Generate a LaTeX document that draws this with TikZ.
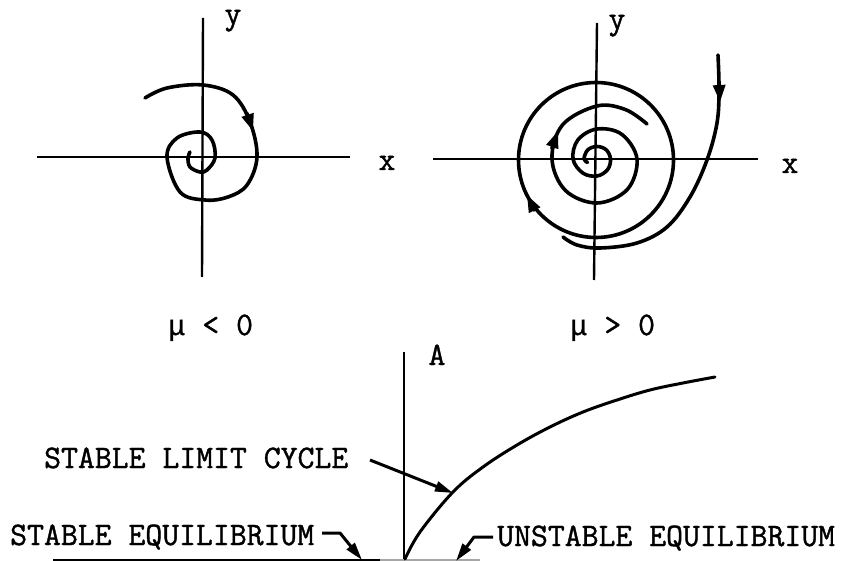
\documentclass[tikz,border=0pt]{standalone}
\usepackage{fontspec}
\newfontfamily\tw[FakeBold=1.2]{Latin Modern Mono}
\newfontfamily\mufont[FakeBold=0.6]{Liberation Mono}
\usetikzlibrary{arrows.meta}
\newcommand{\mymu}{{\mufont\fontsize{28.7}{30}\selectfont μ}}
\begin{document}
\begin{tikzpicture}[x=1pt,y=-1pt,
  axis/.style={line width=2.4pt},
  thinaxis/.style={line width=1.7pt},
  traj/.style={line width=3.6pt, line cap=round, line join=round},
  tipseg/.style={line width=3.2pt, -{Triangle[length=17pt,width=12pt]}},
  leader/.style={line width=3pt, line join=round, -{Triangle[length=18pt,width=10pt]}},
  lbl/.style={font=\tw\fontsize{32.8}{34}\selectfont, inner sep=0pt}]
\useasboundingbox (0,0) rectangle (854,561);

% ---------- left phase portrait (mu < 0)
\draw[axis] (37,157) -- (350,157);
\draw[axis] (203,18) -- (202,277);
\node[lbl, anchor=base] (xL) at (387,170) {x};
\node[lbl, anchor=base] (yL) at (233,24) {y};
\draw[traj] plot[smooth, tension=0.6] coordinates {(145,98) (167,88) (203,85) (233,95) (250,122) (257,157) (247,185) (228,197) (205,200) (180,192) (167,157) (177,138) (200,132) (212,140) (215,158) (207,170) (200,172) (190,167) (188,158) (190,152)};
\coordinate (aL1) at (247,113);
\coordinate (aL2) at (253,131);
\draw[tipseg] (aL1) -- (aL2);
\node[lbl, anchor=base west] (muL) at (168,335) {\mymu{} < 0};

% ---------- right phase portrait (mu > 0)
\draw[axis] (433,159) -- (758,159);
\draw[axis] (597,23) -- (594,280);
\node[lbl, anchor=base] (xR) at (790,173) {x};
\node[lbl, anchor=base] (yR) at (617,29) {y};
\draw[traj] (596,160) circle[radius=77.5];
\draw[traj] plot[smooth, tension=0.6] coordinates {(587.6,162.4) (584,159) (587.8,149.8) (597,146.5) (606.2,149.8) (610.5,159) (607.6,169.6) (597,176) (582.9,173.1) (573,159) (577.9,139.9) (597,129) (621.7,134.3) (637,159) (627.4,189.4) (597,203) (565.5,190.5) (552,159) (562.7,124.7) (597,106) (625.5,109.6) (647,124)};
\draw[traj] plot[smooth, tension=0.6] coordinates {(718,55) (719,90) (717,123) (707,160) (690,197) (667,227) (637,243) (600,248) (577,245) (563,237)};
\coordinate (aR1) at (719,83);
\coordinate (aR2) at (720,102);
\draw[tipseg] (aR1) -- (aR2);
\coordinate (aC1) at (535,211);
\coordinate (aC2) at (527,195);
\draw[tipseg] (aC1) -- (aC2);
\coordinate (aS1) at (551.5,149);
\coordinate (aS2) at (558,131);
\draw[tipseg] (aS1) -- (aS2);
\node[lbl, anchor=base west] (muR) at (570,335) {\mymu{} > 0};

% ---------- bifurcation diagram
\draw[thinaxis] (404,352) -- (404,561);
\draw[line width=2.6pt] (53,560) -- (380,560);
\draw[line width=2pt, black!35] (380,560) -- (480,560);
\node[lbl, anchor=base] (A) at (437,365) {A};
\draw[line width=3pt, line cap=round] plot[smooth, tension=0.6] coordinates {(405,559) (420,532) (453,492) (483,467) (517,445) (550,427) (583,412) (617,400) (650,390) (683,383) (715,377)};

\node[lbl, anchor=base west] (slc) at (44,468) {STABLE LIMIT CYCLE};
\node[lbl, anchor=base west] (se) at (10,545) {STABLE EQUILIBRIUM};
\node[lbl, anchor=base west] (ue) at (497,546) {UNSTABLE EQUILIBRIUM};

\coordinate (slcS) at (370,460);
\coordinate (slcT) at (453,493);
\draw[leader] (slcS) -- (slcT);
\coordinate (seS) at (322,533);
\coordinate (seM) at (340,533);
\coordinate (seT) at (362,560);
\draw[leader] (seS) -- (seM) -- (seT);
\coordinate (ueS) at (493,537);
\coordinate (ueM) at (474,537);
\coordinate (ueT) at (456,561);
\draw[leader] (ueS) -- (ueM) -- (ueT);
\end{tikzpicture}
\end{document}
